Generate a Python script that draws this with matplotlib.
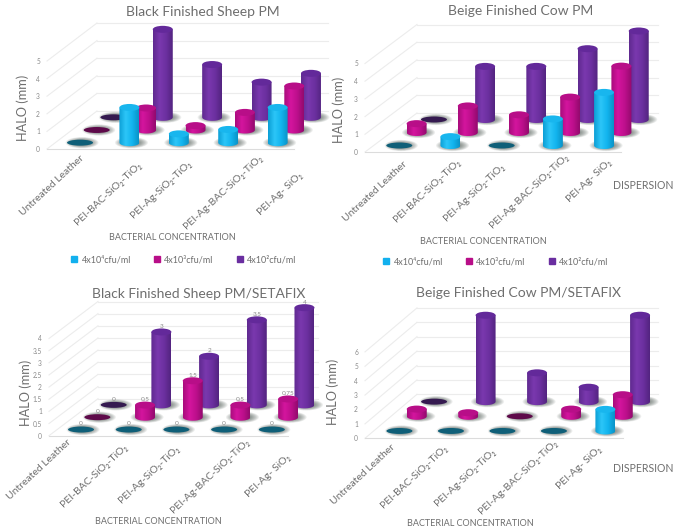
import numpy as np
import matplotlib
matplotlib.use('Agg')
import matplotlib.pyplot as plt
from matplotlib.colors import LinearSegmentedColormap
from matplotlib.lines import Line2D
from matplotlib.patches import Ellipse, PathPatch
from matplotlib.path import Path
from matplotlib.transforms import Affine2D

plt.rcParams['font.family'] = ['Lato', 'DejaVu Sans']

W, H = 676, 530

categories = ['Untreated Leather', 'PEI-BAC-SiO₂-TiO₂', 'PEI-Ag-SiO₂-TiO₂',
              'PEI-Ag-BAC-SiO₂-TiO₂', 'PEI-Ag- SiO₂']
series_names = ['4x10⁴cfu/ml', '4x10³cfu/ml', '4x10²cfu/ml']

sheep_low = [0, 2, 0.5, 0.75, 2]
sheep_mid = [0, 1.25, 0.25, 1, 2.5]
sheep_high = [0, 5, 3, 2, 2.5]

cow_low = [0, 0.5, 0, 1.5, 3]
cow_mid = [0.5, 1.5, 1, 2, 3.75]
cow_high = [0, 3, 3, 4, 5]

sheep_fix_low = [0, 0, 0, 0, 0]
sheep_fix_mid = [0, 0.5, 1.5, 0.5, 0.75]
sheep_fix_high = [0, 3, 2, 3.5, 4]

cow_fix_low = [0, 0, 0, 0, 1.5]
cow_fix_mid = [0.5, 0.25, 0, 0.5, 1.5]
cow_fix_high = [0, 6, 2, 1, 6]

ramps = [LinearSegmentedColormap.from_list('c', ['#0c9fd6', '#2cc6f8', '#12b4ee', '#0a93c8']),
         LinearSegmentedColormap.from_list('m', ['#a80c7c', '#d4159e', '#bd0f8c', '#940a6e']),
         LinearSegmentedColormap.from_list('p', ['#5f2a90', '#7a38ae', '#6c30a0', '#532480'])]
top_colors = ['#18b6ee', '#b80e88', '#63299a']
flat_colors = ['#0f5f78', '#5e0a4a', '#351a50']
swatches = ['#12b0ee', '#b80e88', '#6a2ea0']
TEXT = '#6e6e6e'
TICK_TEXT = '#8a8a8a'
GRID = '#ececec'

fig = plt.figure(figsize=(W / 100, H / 100), dpi=100)


def cylinder(ax, cx, base, val, hw, eh, row, z):
    # soft contact shadow under every bar
    for k in np.linspace(1, 0.5, 9):
        ax.add_patch(Ellipse((cx + hw * 0.2, base), 3.3 * hw * k, 1.6 * eh * k,
                             fc='#2a3a30', ec='none', alpha=0.08, zorder=z))
    if val == 0:
        ax.add_patch(Ellipse((cx, base), 2.6 * hw, eh * 0.85, fc=flat_colors[row],
                             ec='none', zorder=z + 0.1))
        return base
    top = base + val
    t = np.linspace(np.pi, 2 * np.pi, 30)
    xs = np.r_[cx - hw, cx + hw * np.cos(t), cx + hw]
    ys = np.r_[top, base + eh / 2 * np.sin(t), top]
    clip = PathPatch(Path(np.c_[xs, ys]), transform=ax.transData, fc='none', ec='none')
    ax.add_patch(clip)
    grad = ramps[row](np.linspace(0, 1, 40))[None, :, :3]
    im = ax.imshow(grad, extent=(cx - hw, cx + hw, base - eh, top), aspect='auto',
                   interpolation='bilinear', zorder=z + 0.2)
    im.set_clip_path(clip)
    ax.add_patch(Ellipse((cx, top), 2 * hw, eh, fc=top_colors[row], ec='none', zorder=z + 0.3))
    return top


def panel(title, title_xy, rows, ticks, x0, y0, cat_w, val_h, dep_px, back_end, box,
          halo_xy, xlabel_xy, label_dx, label_dy, show_values=False):
    left, right, up, low = box
    ax = fig.add_axes([left / W, 1 - low / H, (right - left) / W, (low - up) / H])
    ax.patch.set_alpha(0)
    ax.set_autoscale_on(False)
    ax.set_xlim((left - x0) / cat_w, (right - x0) / cat_w)
    ax.set_ylim((y0 - low) / val_h, (y0 - up) / val_h)
    for sp in ax.spines.values():
        sp.set_visible(False)
    ax.spines['left'].set_position(('data', 0))
    ax.spines['bottom'].set_position(('data', 0))
    ax.set_yticks(ticks)
    ax.set_yticklabels([f'{t:g}' for t in ticks], fontsize=4.8, color=TICK_TEXT)
    ax.set_xticks(np.arange(5) + 0.62)
    labels = ax.set_xticklabels(categories, fontsize=7.5, color=TEXT, rotation=43, ha='right',
                                va='top', rotation_mode='anchor')
    ax.tick_params(axis='both', length=0)
    ax.tick_params(axis='y', pad=5)
    ax.tick_params(axis='x', pad=7)
    # hand-placed category labels
    for lab, sx, sy in zip(labels, label_dx, label_dy):
        lab.set_transform(lab.get_transform() + Affine2D().translate(sx, -sy))

    dx = dep_px[0] / cat_w
    dy = dep_px[1] / val_h
    hw = 10 / cat_w
    eh = 7 / val_h

    # floor and walls
    back_x = (back_end - x0) / cat_w
    for t in ticks:
        ax.plot([0, dx], [t, t + dy], color=GRID, lw=0.8, zorder=0)
        ax.plot([dx, back_x], [t + dy, t + dy], color=GRID, lw=0.8, zorder=0)
    ax.plot([0, 5], [0, 0], color='#dcdcdc', lw=0.8, zorder=0)

    # back row first, the lowest series stands closest to the viewer
    for r in (2, 1, 0):
        frac = (r + 0.5) / 3
        for i, v in enumerate(rows[r]):
            cx = i + 0.5 + frac * dx
            base = frac * dy
            top = cylinder(ax, cx, base, v, hw, eh, r, 3 - r)
            if show_values:
                ax.text(cx, top + eh * 0.45, f'{v:g}', fontsize=4.6, color=TICK_TEXT, ha='center',
                        va='bottom', zorder=6)

    fig.text(title_xy[0] / W, 1 - title_xy[1] / H, title, fontsize=10, color=TEXT,
             ha='center', va='center')
    fig.text(halo_xy[0] / W, 1 - halo_xy[1] / H, 'HALO (mm)', fontsize=9.2, color=TEXT,
             rotation=90, ha='center', va='center')
    fig.text(xlabel_xy[0] / W, 1 - xlabel_xy[1] / H, 'BACTERIAL CONCENTRATION', fontsize=6.5,
             color=TEXT, ha='center', va='center')
    return ax


def legend(xy):
    handles = [Line2D([], [], marker='s', ls='', ms=5, color=c) for c in swatches]
    fig.legend(handles, series_names, ncol=3, frameon=False, fontsize=6.5, labelcolor=TEXT,
               loc='center', bbox_to_anchor=(xy[0] / W, 1 - xy[1] / H), handletextpad=-0.2,
               columnspacing=1.9)


panel('Black Finished Sheep PM', (203, 12), [sheep_low, sheep_mid, sheep_high],
      [0, 1, 2, 3, 4, 5], 47, 149, 49.4, 17.6, (50, 38), 328, (0, 330, 15, 235),
      (23, 108), (172, 238), [2, 10, 11, 32, 23], [-5, 2, 0, -5, 12])
panel('Beige Finished Cow PM', (521, 11), [cow_low, cow_mid, cow_high],
      [0, 1, 2, 3, 4, 5], 365, 152, 51.2, 17.7, (52, 39), 658, (340, 660, 15, 235),
      (339, 110), (483, 241), [6, 8, 1, 14, 6], [-2, -4, 0, -9, -4])
panel('Black Finished Sheep PM/SETAFIX', (199, 293.5), [sheep_fix_low, sheep_fix_mid, sheep_fix_high],
      [0, 0.5, 1, 1.5, 2, 2.5, 3, 3.5, 4], 49, 435.7, 47.7, 24.3, (49, 37), 318, (0, 330, 295, 515),
      (26, 393), (158, 521), [-12, -3, 1, 23, 17], [-8, -3, -1, -8, 7], show_values=True)
panel('Beige Finished Cow PM/SETAFIX', (519, 293), [cow_fix_low, cow_fix_mid, cow_fix_high],
      [0, 1, 2, 3, 4, 5, 6], 365, 438.3, 51.5, 14.4, (52, 44), 658, (340, 660, 300, 515),
      (333, 392), (470, 523), [-6, -5, -9, 2, -6], [-5, -5, -1, -10, -3])

legend((181, 260))
legend((493, 262))
fig.text(643 / W, 1 - 186 / H, 'DISPERSION', fontsize=7.6, color=TEXT, ha='center', va='center')
fig.text(643 / W, 1 - 469 / H, 'DISPERSION', fontsize=7.6, color=TEXT, ha='center', va='center')

fig.savefig('out.png', dpi=100)
